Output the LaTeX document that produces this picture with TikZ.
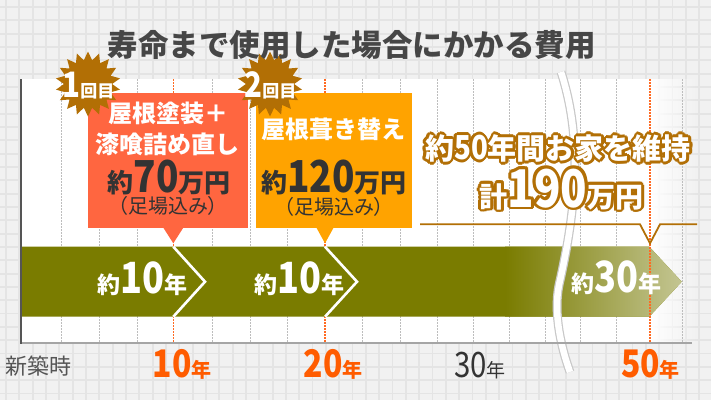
\documentclass[tikz,border=0pt]{standalone}
\usepackage{fontspec}
\setmainfont{Noto Sans CJK JP}
\newfontfamily\numf{Noto Sans CJK JP}[FakeStretch=0.84]
\newfontfamily\jpp{Noto Sans CJK JP}[RawFeature=+palt]
\usetikzlibrary{shapes.geometric,fadings,calc}
\definecolor{bgc}{HTML}{F1F1F1}
\definecolor{gridc}{HTML}{E4E4E4}
\definecolor{olv}{HTML}{7A7C00}
\definecolor{olvl}{HTML}{C3C592}
\definecolor{redbox}{HTML}{FF6640}
\definecolor{orbox}{HTML}{FFA300}
\definecolor{brn}{HTML}{B26F05}
\definecolor{orn}{HTML}{FF5C00}
\definecolor{orl}{HTML}{FF6A22}
\definecolor{dotc}{HTML}{BDBDBD}
\definecolor{txt}{HTML}{333333}
\definecolor{ttl}{HTML}{464646}
\definecolor{axc}{HTML}{555555}
\definecolor{axb}{HTML}{A5A5A5}
\definecolor{brk}{HTML}{C8C8C8}
\newcommand\myfs[1]{\fontsize{#1}{#1}\selectfont}
\newcommand\outlined[4]{%
  \foreach \a in {0,30,...,330}{\node[lbl,text=brn,font=#3] at ($#2+(\a:2.8pt)$) {#4};}
  \node[lbl,text=white,font=#3] (#1) at #2 {#4};}
\tikzset{
  lbl/.style={anchor=base,inner sep=0pt},
  gridline/.style={gridc,line width=1.8pt},
  dotline/.style={dotc,line width=0.8pt,dash pattern=on 1.5pt off 1.5pt},
  orline/.style={orl,line width=1.3pt,dash pattern=on 2pt off 1pt},
  chev/.style={white,line width=2.6pt},
  brkline/.style={draw=brk,line width=1.2pt,double=white,double distance=6.5pt},
  starbox/.style={star,star points=18,star point ratio=1.35,minimum size=65pt,inner sep=0pt,fill=brn},
  callout/.style={inner sep=0pt,minimum width=#1},
}
\begin{document}
\begin{tikzpicture}[x=1pt,y=-1pt]
\useasboundingbox (0,0) rectangle (711,400);
% background grid
\fill[bgc] (0,0) rectangle (711,400);
\foreach \i in {0,...,54} \draw[gridline] (\i*13.33+6,0) -- (\i*13.33+6,400);
\foreach \j in {0,...,30} \draw[gridline] (0,\j*13.33+7) -- (711,\j*13.33+7);
% plot area
\fill[white] (21,79) rectangle (650,343);
\fill[white,path fading=east] (649.5,79) rectangle (698,343);
\foreach \x in {61.7,99,137.3,212,250,287,362.3,400.7,437.7,473.3,509.3,545,580,616,682.3}
  \draw[dotline] (\x,79) -- (\x,342);
\foreach \x in {173.3,325,650} \draw[orline] (\x,79) -- (\x,342);
% bar
\coordinate (bA) at (21,246.7);
\coordinate (bB) at (649.3,246.7);
\coordinate (bT) at (681.7,281.7);
\coordinate (bC) at (649.3,316.7);
\coordinate (bD) at (21,316.7);
\fill[olv] (bA) -- (bB) -- (bT) -- (bC) -- (bD) -- cycle;
\shade[left color=olv,right color=olvl] (505,246.7) -- (bB) -- (bT) -- (bC) -- (505,316.7) -- cycle;
\draw[orline] (650,246.7) -- (650,316.7);
% chevrons
\coordinate (c1a) at (173.3,246.7);
\coordinate (c1b) at (205,281.7);
\coordinate (c1c) at (173.3,316.7);
\coordinate (c2a) at (325,246.7);
\coordinate (c2b) at (357,281.7);
\coordinate (c2c) at (325,316.7);
\draw[chev] (c1a) -- (c1b) -- (c1c);
\draw[chev] (c2a) -- (c2b) -- (c2c);
% break
\coordinate (k0) at (561,72);
\coordinate (k1) at (559,285);
\coordinate (k2) at (570,372);
\draw[brkline] (k0) .. controls (583,140) and (576,210) .. (k1) .. controls (553,315) and (562,350) .. (k2);
% axes
\coordinate (o) at (21,342.7);
\coordinate (ytop) at (21,79);
\coordinate (xend) at (692,342.7);
\draw[axb,line width=2pt] (o) -- (xend);
\draw[axc,line width=1.5pt] (ytop) -- ($(o)+(0,0.8)$);
% box 1
\node[fill=redbox,callout=160.6pt,minimum height=134.4pt] (b1) at (168,160.5) {};
\coordinate (t1) at (173.3,243.3);
\fill[redbox] ($(t1|-b1.south)+(-10.5,-1)$) -- (t1) -- ($(t1|-b1.south)+(10.5,-1)$) -- cycle;
\node[starbox] (s1) at (88,84) {};
\node[lbl,text=white,font=\bfseries] (s1t) at (88.5,97.5) {{\numf\myfs{35}1}{\myfs{17}回目}};
\node[lbl,text=white,font=\bfseries\myfs{24}] (b1l1) at (168.5,122.9) {屋根塗装＋};
\node[lbl,text=white,font=\bfseries\myfs{24}] (b1l2) at (167,153.9) {漆喰詰め直し};
\node[lbl,text=txt,font=\bfseries] (b1l3) at (169,192) {{\myfs{26}約}{\numf\myfs{44}70}{\myfs{26}万円}};
\node[lbl,text=txt,font=\jpp\myfs{20}] (b1l4) at (168,213) {（足場込み）};
% box 2
\node[fill=orbox,callout=155.7pt,minimum height=135pt] (b2) at (333.85,160.2) {};
\coordinate (t2) at (325,243.3);
\fill[orbox] ($(t2|-b2.south)+(-9,-1)$) -- (t2) -- ($(t2|-b2.south)+(9,-1)$) -- cycle;
\node[starbox] (s2) at (270,84) {};
\node[lbl,text=white,font=\bfseries] (s2t) at (270.5,97.5) {{\numf\myfs{35}2}{\myfs{17}回目}};
\node[lbl,text=white,font=\bfseries\myfs{24}] (b2l1) at (333.7,138.9) {屋根葺き替え};
\node[lbl,text=txt,font=\bfseries] (b2l3) at (334,192) {{\myfs{26}約}{\numf\myfs{44}120}{\myfs{26}万円}};
\node[lbl,text=txt,font=\jpp\myfs{20}] (b2l4) at (334,214) {（足場込み）};
% bracket
\coordinate (r0) at (420,224.3);
\coordinate (r1) at (640,224.3);
\coordinate (r2) at (650,243.3);
\coordinate (r3) at (660,224.3);
\coordinate (r4) at (697,224.3);
\draw[brn,line width=1.8pt] (r0) -- (r1) -- (r2) -- (r3) -- (r4);
% outlined texts
\outlined{tot1}{(558,159.5)}{\bfseries\myfs{29}}{約{\numf\myfs{33}50}年間お家を維持}
\outlined{tot2}{(561.5,207)}{\bfseries\myfs{28}}{計{\numf\myfs{52}190}万円}
% bar labels
\node[lbl,text=white,font=\bfseries] (y1) at (142.5,293.5) {{\myfs{23}約}{\numf\myfs{43}10}{\myfs{23}年}};
\node[lbl,text=white,font=\bfseries] (y2) at (299,293.5) {{\myfs{23}約}{\numf\myfs{43}10}{\myfs{23}年}};
\node[lbl,text=white,font=\bfseries] (y3) at (616,292) {{\myfs{23}約}{\numf\myfs{43}30}{\myfs{23}年}};
% axis labels
\node[lbl,text=axc,font=\myfs{22}] (x0) at (38.8,374) {新築時};
\node[lbl,text=orn,font=\bfseries] (x10) at (182,377) {{\numf\myfs{38}10}{\myfs{20}年}};
\node[lbl,text=orn,font=\bfseries] (x20) at (333,377) {{\numf\myfs{38}20}{\myfs{20}年}};
\node[lbl,text=txt] (x30) at (480,377) {{\numf\myfs{35}30}{\myfs{19}年}};
\node[lbl,text=orn,font=\bfseries] (x50) at (650.5,377) {{\numf\myfs{38}50}{\myfs{20}年}};
% title
\node[lbl,text=ttl,font=\bfseries\myfs{30.5}] (title) at (351.5,56.8) {寿命まで使用した場合にかかる費用};
\end{tikzpicture}
\end{document}
